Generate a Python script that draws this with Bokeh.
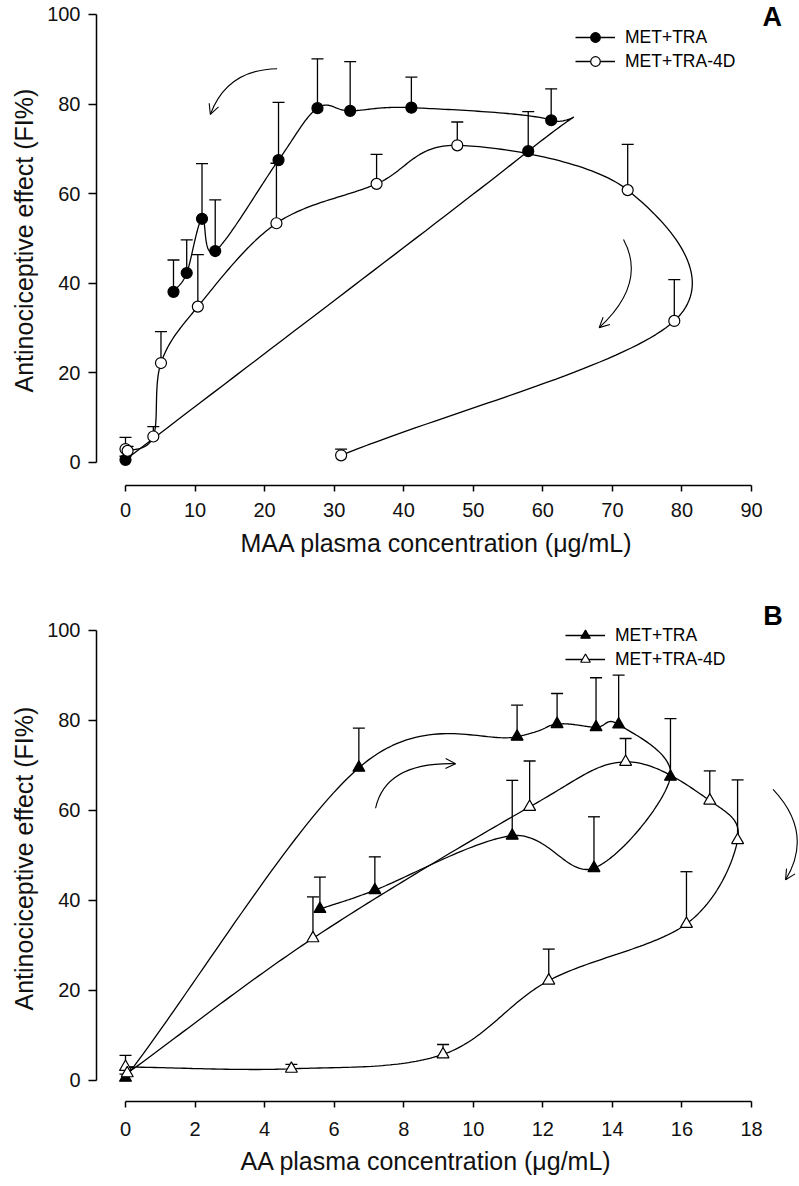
import numpy as np
from bokeh.plotting import figure
from bokeh.models import (ColumnDataSource, Whisker, TeeHead, Legend, LegendItem,
                          Label, Arrow, OpenHead, FixedTicker, Title)
from bokeh.layouts import column
from bokeh.embed import file_html
from bokeh.resources import INLINE

# ---------------- data ----------------
series_names = ["MET+TRA", "MET+TRA-4D"]
y_title = "Antinociceptive effect (FI%)"

# MET+TRA, in time order
effect_met_tra = [0.6, 69.5, 76.4, 79.2, 78.5, 79.1, 67.5, 47.2, 54.4, 42.3, 38.1]
sem_met_tra = [0.8, 8.8, 7.0, 6.8, 11.0, 11.0, 12.9, 11.4, 12.3, 7.4, 7.1]
maa_met_tra = [0.0, 57.9, 61.2, 41.1, 32.3, 27.6, 22.0, 12.9, 11.0, 8.8, 6.9]
aa_met_tra = [0.0, 6.71, 11.26, 12.41, 13.53, 14.18, 15.67, 13.47, 11.12, 7.17, 5.59]

# MET+TRA-4D, in time order
effect_4d = [3.0, 2.6, 5.8, 22.2, 34.8, 53.4, 62.2, 70.8, 60.8, 31.6, 1.6]
sem_4d = [2.6, 1.0, 2.2, 7.0, 11.6, 13.4, 6.6, 5.2, 10.2, 9.2, 1.4]
maa_4d = [0.0, 0.3, 4.0, 5.1, 10.4, 21.7, 36.1, 47.7, 72.2, 78.9, 31.0]
aa_4d = [0.0, 4.77, 9.13, 12.17, 16.13, 17.6, 16.8, 14.38, 11.62, 5.39, 0.05]

maa_ticks = [0, 10, 20, 30, 40, 50, 60, 70, 80, 90]
aa_ticks = [0, 2, 4, 6, 8, 10, 12, 14, 16, 18]
effect_ticks = [0, 20, 40, 60, 80, 100]

# curved direction arrows: x0, y0, cx, cy, x1, y1 (data units)
arrows_A = [(21.8, 87.9, 14.6, 87.7, 12.2, 77.7),
            (71.6, 49.8, 75.0, 40.0, 68.1, 30.1)]
arrows_B = [(7.19, 60.5, 7.48, 70.8, 9.49, 70.4),
            (18.62, 64.7, 19.8, 55.0, 18.98, 44.6)]

FONT = "Liberation Sans"


def catmull_rom(x, y, n=40):
    P = np.column_stack([x, y]).astype(float)
    ext = np.vstack([2 * P[0] - P[1], P, 2 * P[-1] - P[-2]])
    out = []
    last = len(ext) - 3
    for i in range(1, len(ext) - 2):
        p0, p1, p2, p3 = ext[i - 1], ext[i], ext[i + 1], ext[i + 2]
        m1 = (p2 - p0) / 2.0
        m2 = (p3 - p1) / 2.0
        s = np.linspace(0, 1, n, endpoint=(i == last))
        h00 = 2 * s**3 - 3 * s**2 + 1
        h10 = s**3 - 2 * s**2 + s
        h01 = -2 * s**3 + 3 * s**2
        h11 = s**3 - s**2
        seg = (h00[:, None] * p1 + h10[:, None] * m1 +
               h01[:, None] * p2 + h11[:, None] * m2)
        out.append(seg)
    pts = np.vstack(out)
    return pts[:, 0], pts[:, 1]


def make_panel(xf, xo, marker, size, x_range, y_range, xticks, xbound,
               width, height, bottom, xtitle, xlabel_standoff, xtitle_standoff,
               ytitle_offset, letter, letter_pos, legend_loc, arrows):
    p = figure(width=width, height=height, x_range=x_range, y_range=y_range,
               output_backend="svg", toolbar_location=None,
               min_border_left=96, min_border_right=0,
               min_border_top=0, min_border_bottom=bottom)
    p.outline_line_color = None
    p.grid.visible = False
    p.background_fill_color = "white"
    p.border_fill_color = "white"

    series = ((xf, effect_met_tra, sem_met_tra, "black"),
              (xo, effect_4d, sem_4d, "white"))
    lines = []
    for xs, eff, sem, fill in series:
        cx, cy = catmull_rom(xs, eff)
        lines.append(p.line(cx, cy, line_color="black", line_width=1.3))
    scat = []
    for xs, eff, sem, fill in series:
        src = ColumnDataSource(dict(x=xs, y=eff,
                                    upper=[e + s for e, s in zip(eff, sem)]))
        w = Whisker(source=src, base="x", lower="y", upper="upper",
                    dimension="height", line_color="black", line_width=1.3,
                    upper_head=TeeHead(size=12, line_color="black", line_width=1.3),
                    lower_head=None, level="underlay")
        p.add_layout(w)
        scat.append(p.scatter("x", "y", source=src, marker=marker, size=size,
                              fill_color=fill, line_color="black", line_width=1.2))

    for (x0, y0, cxx, cyy, x1, y1) in arrows:
        p.quadratic(x0=[x0], y0=[y0], x1=[x1], y1=[y1], cx=[cxx], cy=[cyy],
                    line_color="black", line_width=1.1)
        p.add_layout(Arrow(end=OpenHead(size=10, line_color="black", line_width=1.1),
                           x_start=x1 + 0.03 * (cxx - x1), y_start=y1 + 0.03 * (cyy - y1),
                           x_end=x1, y_end=y1, line_color="black", line_width=1.1))

    legend = Legend(items=[LegendItem(label=series_names[0], renderers=[lines[0], scat[0]]),
                           LegendItem(label=series_names[1], renderers=[lines[1], scat[1]])],
                    location=legend_loc, glyph_width=40, glyph_height=24, spacing=0,
                    padding=0, margin=0, border_line_color=None,
                    background_fill_alpha=0, label_standoff=10,
                    label_text_font=FONT, label_text_font_size="17.5px",
                    label_text_color="black")
    p.add_layout(legend)

    p.xaxis.ticker = FixedTicker(ticks=xticks)
    p.xaxis.bounds = xbound
    p.yaxis.ticker = FixedTicker(ticks=effect_ticks)
    p.yaxis.bounds = (0, 100)
    for ax in (p.xaxis, p.yaxis):
        ax.axis_line_color = "black"
        ax.axis_line_width = 1.5
        ax.major_tick_line_color = "black"
        ax.major_tick_line_width = 1.5
        ax.major_tick_in = 0
        ax.minor_tick_line_color = None
        ax.major_label_text_font = FONT
        ax.major_label_text_font_size = "20px"
        ax.major_label_text_color = "#111111"
    p.xaxis.major_tick_out = 6
    p.xaxis.major_label_standoff = xlabel_standoff
    p.yaxis.major_tick_out = 8
    p.yaxis.major_label_standoff = 8

    p.add_layout(Title(text=xtitle, align="left", offset=144, standoff=xtitle_standoff,
                       text_font=FONT, text_font_size="25px",
                       text_font_style="normal", text_color="#111111"), "below")
    p.add_layout(Title(text=y_title, align="left", offset=ytitle_offset, standoff=13,
                       text_font=FONT, text_font_size="25px",
                       text_font_style="normal", text_color="#111111"), "left")
    p.add_layout(Label(x=letter_pos[0], y=letter_pos[1], text=letter,
                       text_align="left", text_baseline="alphabetic",
                       text_font=FONT, text_font_size="27px",
                       text_font_style="bold", text_color="black"))
    return p


# panel A: frame x 96..798 px, y 0..485 px
pA = make_panel(maa_met_tra, maa_4d, "circle", 11,
                (-4.169, 96.757), (-5.134, 103.125), maa_ticks, (0, 90),
                798, 570, 85,
                "MAA plasma concentration (\u03bcg/mL)", 11, 14, 93,
                "A", (91.58, 99.55), (479, 412), arrows_A)
# panel B: frame x 96..798 px, y 570..1101 px
pB = make_panel(aa_met_tra, aa_4d, "triangle", 12,
                (-0.8339, 19.3514), (-4.667, 113.333), aa_ticks, (0, 18),
                798, 615, 84,
                "AA plasma concentration (\u03bcg/mL)", 14, 12, 91,
                "B", (18.336, 103.3), (469, 430), arrows_B)

layout = column(pA, pB, spacing=0)
open("out.html", "w").write(file_html(layout, INLINE))
